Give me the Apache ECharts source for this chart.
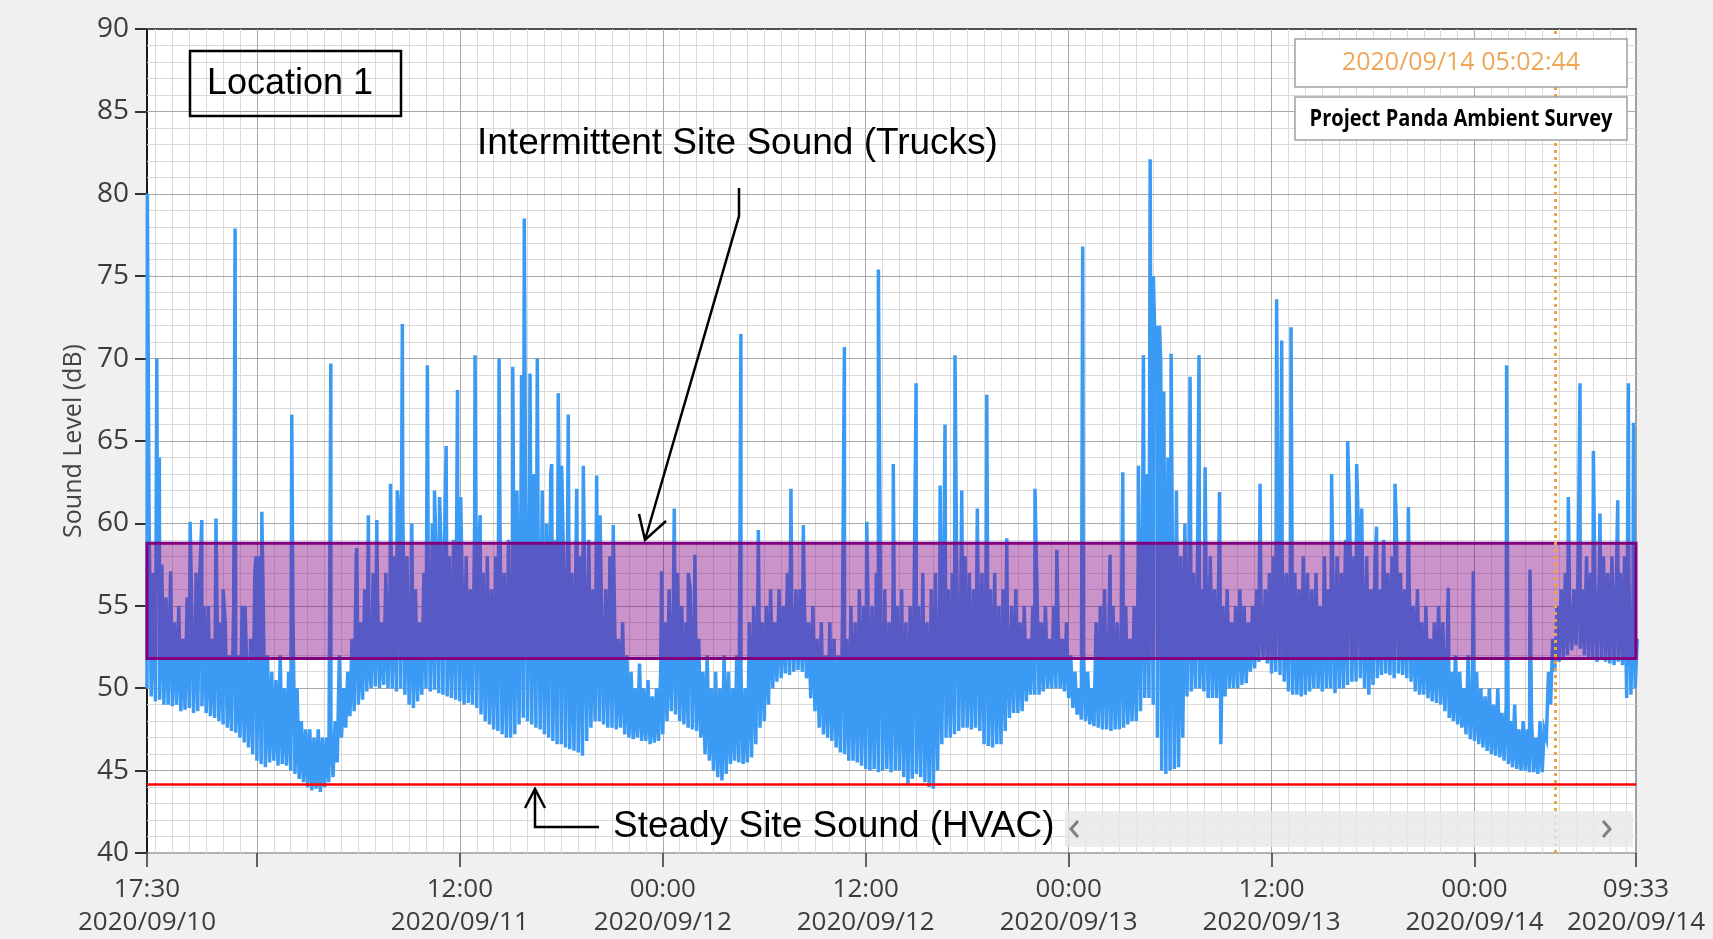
<!DOCTYPE html>
<html><head><meta charset="utf-8">
<script src="https://cdn.jsdelivr.net/npm/echarts@6/dist/echarts.min.js"></script>
<style>html,body{margin:0;padding:0;background:#f0f0f0;}#c{width:1713px;height:939px;}</style>
</head><body><div id="c"></div>
<script>
// x values are hours since 2020/09/10 00:00
const tStart = 17.5, tEnd = 105.55, step = 0.25;
const tickHours = [17.5, 24, 36, 48, 60, 72, 84, 96, 105.55];
const tickLabels = ['17:30\n2020/09/10', '', '12:00\n2020/09/11', '00:00\n2020/09/12', '12:00\n2020/09/12',
  '00:00\n2020/09/13', '12:00\n2020/09/13', '00:00\n2020/09/14', '09:33\n2020/09/14'];
const majorGridHours = [24, 36, 48, 60, 72, 84, 96];
const hvacLevel = 44.2;
const truckBand = [51.8, 58.8];
const cursorHour = 100.77;

// lower envelope of the trace, one value per 15 min starting 17:30
const loLevel = [
  50,49.5, 49.2,49.3,49.0,49.0, 48.9,49.0,48.6,48.7, 48.8,48.5,48.6,48.9, 48.5,48.3,48.2,48.0, 47.8,47.6,47.4,47.3, 47.0,46.7,46.4,46.0,
  45.6,45.4,45.2,45.5, 45.6,45.3,45.4,45.3, 45.0,44.8,44.5,44.3, 44.0,43.8,43.9,43.7, 44.0,44.3,44.6,45.5, 47.0,47.6,48.3,48.6, 49.0,49.3,49.8,50.0, 50.1,50.0,50.2,50.0, 50.0,49.8,50.0,49.6, 49.0,48.8,49.2,49.6, 50.0,49.8,49.9,49.7, 49.6,49.5,49.4,49.3,
  49.2,49.0,49.1,49.0, 48.8,48.4,48.0,47.8, 47.5,47.4,47.2,47.0, 47.0,47.2,47.8,48.2, 48.0,47.8,47.6,47.5, 47.2,47.0,46.8,46.6, 46.6,46.4,46.3,46.2, 46.1,45.9,46.8,47.6, 48.0,48.0,47.8,47.6, 47.6,47.5,47.6,47.2, 47.0,46.9,47.0,46.8, 46.8,46.6,46.7,46.8,
  47.2,48.0,48.6,48.4, 48.0,47.8,47.6,47.5, 47.4,47.0,46.0,45.6, 45.0,44.6,44.4,44.8, 45.4,45.6,45.5,45.4, 45.5,45.8,46.6,47.6, 48.0,49.0,50.0,50.4, 50.6,50.9,50.8,51.0, 51.1,51.0,50.6,49.4, 48.6,47.6,47.2,47.0, 46.8,46.4,46.1,46.0, 45.6,45.6,45.5,45.3,
  45.1,45.0,45.1,44.9, 45.0,45.1,44.9,45.0, 45.0,44.6,44.2,44.5, 44.8,44.6,44.3,44.0, 43.9,45.0,46.6,47.0, 47.0,47.2,47.4,47.6, 47.6,47.5,47.6,47.4, 46.6,46.5,46.4,46.6, 46.6,47.4,48.2,48.5, 48.5,48.6,49.2,49.6, 49.6,49.6,49.8,50.0, 50.0,50.0,50.0,49.8,
  49.4,48.8,48.4,48.1, 48.0,47.8,47.7,47.6, 47.5,47.5,47.4,47.5, 47.5,47.6,47.8,48.0, 48.0,48.6,49.4,49.4, 49.0,47.0,45.0,44.8, 45.0,45.1,45.2,47.0, 49.5,49.8,50.0,50.0, 49.8,49.4,49.4,49.4, 46.6,49.5,50.0,50.0, 50.0,50.2,50.3,51.0, 51.2,51.6,51.9,51.5,
  50.9,51.0,50.8,50.4, 49.8,49.6,49.6,49.5, 49.6,49.8,50.0,50.0, 49.8,50.0,50.0,49.7, 50.0,50.0,50.2,50.4, 50.4,50.6,50.0,49.6, 50.2,50.6,50.8,50.9, 50.8,50.6,50.9,50.8, 50.6,50.4,49.8,49.6, 49.6,49.4,49.2,49.1, 49.0,48.6,48.2,48.0, 47.8,47.6,47.2,46.9,
  46.8,46.6,46.4,46.2, 46.0,45.9,45.8,45.6, 45.4,45.2,45.1,45.0, 45.0,44.9,44.9,44.8, 44.9,47.0,49.0,51.0, 51.6,51.8,52.0,52.3, 52.6,52.4,52.0,51.9, 51.8,51.6,51.8,51.6, 51.5,51.4,51.6,51.4, 49.4,49.6,50.0
];
// upper edge of the dense trace, same 15 min steps
const hiLevel = [
  60,57, 56,57.5,55.5,56, 54,55,53,55.5, 56,54,57,55, 55,53,56,54, 54,52,55,52, 55,52,53,57,
  58,55,52,51, 50.5,52,50,51, 55,50,48,47.5, 47.5,47,47.5,47, 47,47.5,48,52, 50,51,53,58, 54,56,52,57, 56,54,57,56, 58,61,61,58, 55,56,54,57, 58,60,57,59, 61,58,59,60,
  57,58,56,60, 59,57,58,56, 58,60,57,59, 58,62,63,64, 62,63,60,62, 60,63,59,61, 58,60,57,59, 58,57,59,56, 57,55,56,58, 56,53,54,52, 51,50,51.5,50, 50.5,49.5,50,51,
  54,56,55,57, 55,54,56,55, 53,51,52,50, 51,50,52,51, 50,52,51,50, 54,55,56,54, 55,56,54,56, 55,57,55,56, 56,55,54,55, 53,54,52,54, 53,52,54,53, 55,54,56,55,
  56,55,57,55, 56,54,57,55, 56,54,55,57, 55,57,54,56, 57,55,58,56, 57,58,56,58, 57,56,58,57, 58,56,57,55, 56,54,55,56, 54,55,53,55, 56,54,55,53, 55,54,53,54,
  52,51,50,52, 51,50,54,55, 56,53,55,54, 54,55,53,55, 58,60,63,64, 70,72,68,64, 60,62,58,60, 58,57,58,56, 57,58,56,57, 55,56,54,55, 56,55,54,55, 56,55,56,57,
  58,60,58,57, 58,57,56,58, 57,56,57,55, 58,56,57,58, 57,59,60,58, 60,57,58,56, 58,56,59,57, 58,60,57,56, 57,55,56,54, 55,53,54,55, 54,52,51,52, 51,50,52,50,
  51,50,49.5,50, 49,50,48.5,49, 48,49,47.5,48, 47.5,48,47,48, 47.5,51,53,55, 56,57,55,56, 57,56,58,57, 56,57,58,57, 58,56,57,58, 57,55,53
];
// isolated truck peaks [hour, dB]
const spikes = [
  [17.52,80],[18.08,70],[18.23,64],[18.9,57.1],[20.05,60.1],[20.4,57],[20.74,60.2],[21.58,60.3],[22.0,56],[22.71,77.9],[23.3,55],[23.95,58],[24.29,60.7],[26.06,66.6],[28.37,69.7],[29.9,58.5],[30.59,60.5],[31.09,60.2],[31.9,62.4],[32.3,62],[32.6,72.1],[33.16,60],[34.08,69.6],[34.5,62],[34.8,61.6],[35.19,64.7],[35.86,68.1],[36.05,61.6],[36.9,70.2],[37.2,60.5],[38.32,70],[39.13,69.5],
  [39.65,69],[39.81,78.5],[40.15,69.1],[40.58,70],[41.43,63.6],[41.82,67.9],[42.02,63.5],[42.41,66.6],[42.91,62.1],[43.3,63.5],[44.09,62.9],[44.29,60.5],[45.07,59.9],[47.93,57.1],[48.68,60.9],[49.51,57],[49.9,58.1],[52.62,71.5],[53.65,59.6],[55.58,62.1],[56.31,59.9],[58.74,70.7],[60.06,60.1],[60.75,75.4],[61.63,63.6],
  [62.98,68.5],[64.4,62.3],[64.69,66],[65.28,70.2],[65.68,62],[66.6,60.9],[67.16,67.8],[68.34,59.1],[70.01,62.1],[71.3,58.4],[72.83,76.8],[74.45,58.1],[75.2,63.1],[76.13,63.5],[76.42,70.2],[76.82,82.1],[77.01,75],[77.21,72],[77.45,69.6],[78.06,70.3],[79.18,68.9],[79.71,70.2],[80.07,63.4],[80.92,61.9],[83.32,62.4],
  [84.3,73.6],[84.6,71.1],[85.15,71.9],[87.55,63],[88.5,65],[89.03,63.6],[89.33,60.9],[90.21,59.8],[91.3,62.4],[92.09,61],[94.45,56.1],[95.93,57.1],[97.9,69.6],[99.28,57.2],[101.55,61.6],[102.24,68.5],[103.03,64.4],[103.42,60.6],[104.47,61.4],[105.1,68.5],[105.4,66.1]
];

// build the trace
const pts = [];
for (let i = 0; i < loLevel.length; i++) {
  const t = tStart + i * step;
  pts.push([t, loLevel[i]]);
  if (i < hiLevel.length) pts.push([t + step / 2, hiLevel[i]]);
}
spikes.forEach(s => pts.push([s[0], s[1]]));
pts.sort((a, b) => a[0] - b[0]);

// grid lines (minor first, majors on top)
const gridLines = [];
for (let h = 18; h <= 105; h++) if (majorGridHours.indexOf(h) < 0) gridLines.push({xAxis: h, lineStyle: {color: '#dadada', width: 1, type: 'solid'}});
for (let v = 41; v < 90; v++) if (v % 5) gridLines.push({yAxis: v, lineStyle: {color: '#dadada', width: 1, type: 'solid'}});
majorGridHours.forEach(h => gridLines.push({xAxis: h, lineStyle: {color: '#a8a8a8', width: 1, type: 'solid'}}));
for (let v = 45; v < 90; v += 5) gridLines.push({yAxis: v, lineStyle: {color: '#a8a8a8', width: 1, type: 'solid'}});

function hasFont(name) {
  const ctx = document.createElement('canvas').getContext('2d');
  const s = '2020/09/10 Wmli';
  ctx.font = '40px monospace'; const a = ctx.measureText(s).width;
  ctx.font = '40px "' + name + '", monospace'; const b = ctx.measureText(s).width;
  return Math.abs(a - b) > 0.5;
}
const narrow = hasFont('Liberation Sans Narrow');
const tickFont = narrow ? '"Liberation Sans Narrow"' : '"Open Sans"';
const yTickSize = narrow ? 30 : 28;
const xTickSize = narrow ? 31 : 26;

const chart = echarts.init(document.getElementById('c'));
chart.setOption({
  animation: false,
  backgroundColor: '#f0f0f0',
  grid: {left: 147, top: 29, width: 1489, height: 826, show: true, backgroundColor: '#ffffff', borderWidth: 0},
  xAxis: [{
    type: 'value', min: tStart, max: tEnd, position: 'bottom',
    axisLine: {show: true, onZero: false, lineStyle: {color: '#9a9a9a', width: 1.5}},
    axisTick: {show: true, customValues: tickHours, length: 14, lineStyle: {color: '#333', width: 1.5}},
    axisLabel: {customValues: tickHours, margin: 20, fontFamily: tickFont, fontSize: xTickSize, lineHeight: 33, color: '#3c3c3c',
      formatter: function (v) { for (let i = 0; i < tickHours.length; i++) if (Math.abs(tickHours[i] - v) < 1e-6) return tickLabels[i]; return ''; }},
    splitLine: {show: false}
  }, {
    type: 'value', min: tStart, max: tEnd, position: 'top',
    axisLine: {show: true, onZero: false, lineStyle: {color: '#505050', width: 2}},
    axisTick: {show: false}, axisLabel: {show: false}, splitLine: {show: false}
  }],
  yAxis: [{
    type: 'value', min: 40, max: 90, interval: 5, position: 'left',
    name: 'Sound Level (dB)', nameLocation: 'middle', nameGap: 60, nameRotate: 90,
    nameTextStyle: {fontFamily: '"Open Sans"', fontSize: 25, color: '#444'},
    axisLine: {show: true, onZero: false, lineStyle: {color: '#1a1a1a', width: 2}},
    axisTick: {show: true, inside: false, length: 12, lineStyle: {color: '#333', width: 2}},
    axisLabel: {margin: 18, fontFamily: tickFont, fontSize: yTickSize, color: '#3c3c3c'},
    splitLine: {show: false}
  }, {
    type: 'value', min: 40, max: 90, interval: 5, position: 'right',
    axisLine: {show: true, onZero: false, lineStyle: {color: '#a0a0a0', width: 2}},
    axisTick: {show: false}, axisLabel: {show: false}, splitLine: {show: false}
  }],
  series: [{
    name: 'grid', type: 'line', data: [[tStart, 30]], symbol: 'none', silent: true, z: 1, lineStyle: {width: 0},
    markLine: {silent: true, z: 1, symbol: ['none', 'none'], label: {show: false}, animation: false, data: gridLines}
  }, {
    name: 'Sound Level', type: 'line', data: pts, symbol: 'none', showSymbol: false, z: 2, silent: true,
    lineStyle: {color: '#3a9af4', width: 3.5, join: 'miter'}, itemStyle: {color: '#3a9af4'}
  }, {
    name: 'overlays', type: 'line', data: [[tStart, 30]], symbol: 'none', silent: true, z: 6, lineStyle: {width: 0},
    markArea: {silent: true, z: 6, itemStyle: {color: 'rgba(128,0,128,0.42)', borderColor: '#800080', borderWidth: 3},
      data: [[{xAxis: tStart, yAxis: truckBand[0]}, {xAxis: tEnd, yAxis: truckBand[1]}]]},
    markLine: {silent: true, z: 7, symbol: ['none', 'none'], label: {show: false},
      data: [{yAxis: hvacLevel, lineStyle: {color: '#ff0000', width: 2.5, type: 'solid'}},
             {xAxis: cursorHour, lineStyle: {color: '#f4a23c', width: 3, type: [3, 4]}}]}
  }],
  graphic: [
    {type: 'rect', z: 100, shape: {x: 1065, y: 811, width: 568, height: 36}, style: {fill: 'rgba(232,232,232,0.82)'}},
    {type: 'polyline', z: 101, shape: {points: [[1078, 821], [1071, 829], [1078, 837]]}, style: {stroke: '#808080', lineWidth: 3, fill: null}},
    {type: 'polyline', z: 101, shape: {points: [[1603, 821], [1610, 829], [1603, 837]]}, style: {stroke: '#808080', lineWidth: 3, fill: null}},
    {type: 'rect', z: 100, shape: {x: 190, y: 51, width: 211, height: 65}, style: {fill: null, stroke: '#000', lineWidth: 2.5}},
    {type: 'text', z: 101, x: 290, y: 84, style: {text: 'Location 1', font: '36px "Liberation Sans", Arial, sans-serif', fill: '#000', align: 'center', verticalAlign: 'middle', textAlign: 'center', textVerticalAlign: 'middle'}},
    {type: 'text', z: 101, x: 477, y: 144, style: {text: 'Intermittent Site Sound (Trucks)', font: '37px "Liberation Sans", Arial, sans-serif', fill: '#000', align: 'left', verticalAlign: 'middle', textAlign: 'left', textVerticalAlign: 'middle'}},
    {type: 'polyline', z: 101, shape: {points: [[739, 188], [739, 216], [645, 540]]}, style: {stroke: '#000', lineWidth: 2.5, fill: null}},
    {type: 'polyline', z: 101, shape: {points: [[639, 514], [645, 540], [666, 521]]}, style: {stroke: '#000', lineWidth: 2.5, fill: null}},
    {type: 'text', z: 101, x: 613, y: 827, style: {text: 'Steady Site Sound (HVAC)', font: '37px "Liberation Sans", Arial, sans-serif', fill: '#000', align: 'left', verticalAlign: 'middle', textAlign: 'left', textVerticalAlign: 'middle'}},
    {type: 'polyline', z: 101, shape: {points: [[535, 789], [535, 827], [599, 827]]}, style: {stroke: '#000', lineWidth: 2.5, fill: null}},
    {type: 'polyline', z: 101, shape: {points: [[525, 808], [535, 789], [545, 808]]}, style: {stroke: '#000', lineWidth: 2.5, fill: null}},
    {type: 'rect', z: 100, shape: {x: 1295, y: 39, width: 332, height: 48}, style: {fill: '#fff', stroke: '#a0a0a0', lineWidth: 1.5}},
    {type: 'text', z: 101, x: 1461, y: 63, style: {text: '2020/09/14 05:02:44', font: '25px "Open Sans", sans-serif', fill: '#efa757', align: 'center', verticalAlign: 'middle', textAlign: 'center', textVerticalAlign: 'middle'}},
    {type: 'rect', z: 100, shape: {x: 1295, y: 97, width: 332, height: 43}, style: {fill: '#fff', stroke: '#a0a0a0', lineWidth: 1.5}},
    {type: 'text', z: 101, x: 1461, y: 119, scaleX: 0.87, style: {text: 'Project Panda Ambient Survey', font: 'bold 23px "Open Sans", sans-serif', fill: '#000', align: 'center', verticalAlign: 'middle', textAlign: 'center', textVerticalAlign: 'middle'}}
  ]
});
</script></body></html>
